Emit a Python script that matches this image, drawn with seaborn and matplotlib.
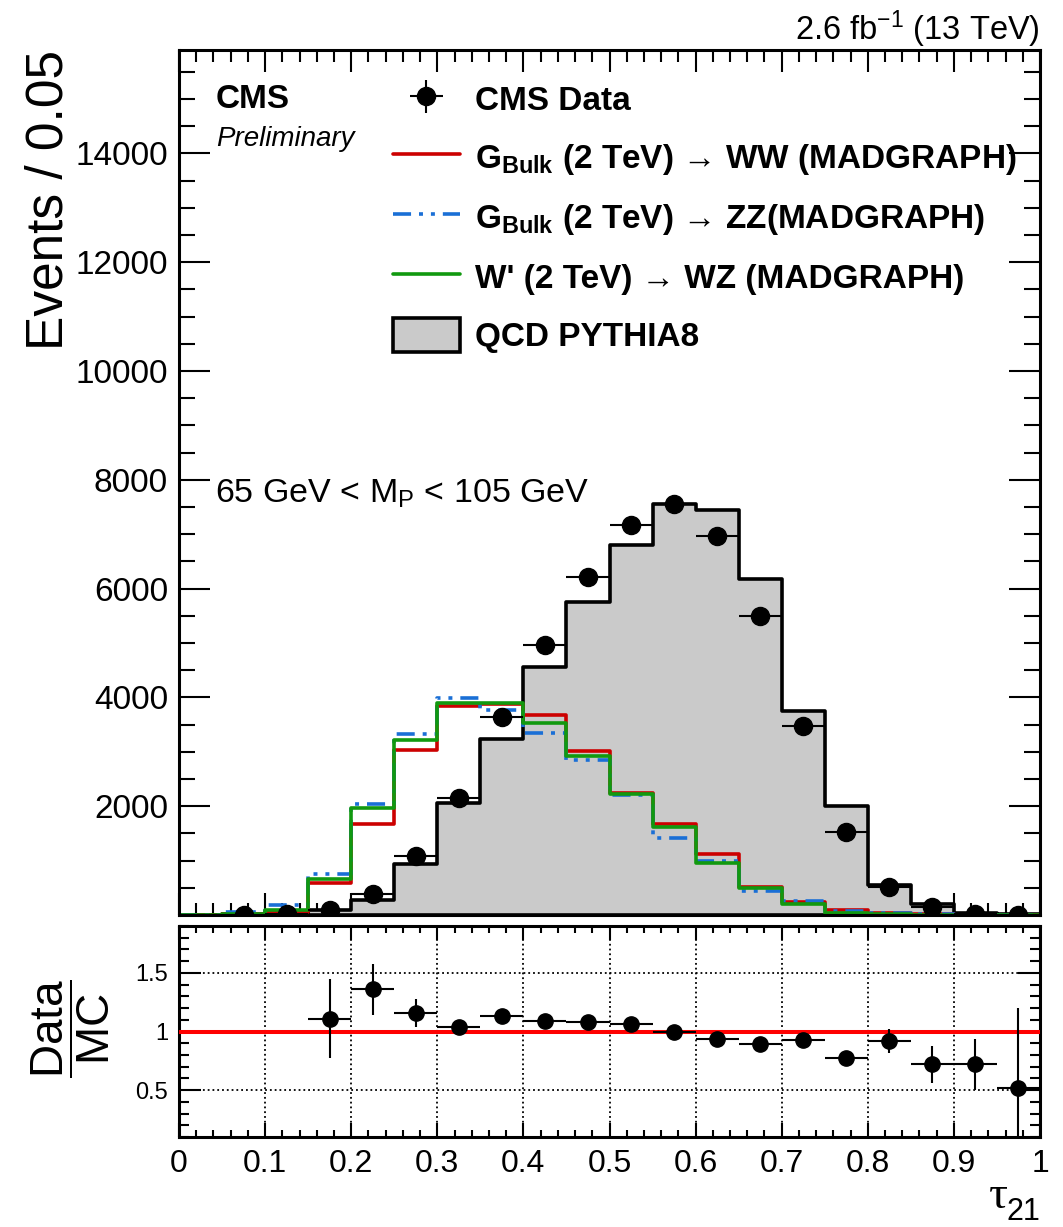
import numpy as np
import pandas as pd
import seaborn as sns
import matplotlib.pyplot as plt
from matplotlib.lines import Line2D
from matplotlib.patches import Patch
from matplotlib.ticker import MultipleLocator

# tau21 binning: 20 bins of width 0.05
bin_edges = [round(0.05 * i, 2) for i in range(21)]
bin_centers = [round(0.05 * i + 0.025, 3) for i in range(20)]

# Events per bin
qcd_pythia8 = [0, 10, 40, 90, 280, 935, 2060, 3240, 4560, 5760,
               6800, 7550, 7440, 6180, 3750, 2000, 550, 195, 30, 10]
gbulk_ww = [0, 10, 60, 580, 1680, 3040, 3850, 3870, 3670, 3010,
            2250, 1670, 1120, 510, 245, 90, 40, 15, 5, 0]
gbulk_zz = [5, 50, 180, 750, 2040, 3320, 3980, 3760, 3350, 2840,
            2200, 1420, 990, 440, 260, 70, 40, 10, 5, 0]
wprime_wz = [0, 10, 90, 660, 1970, 3220, 3900, 3900, 3530, 2930,
             2220, 1620, 950, 490, 200, 40, 10, 5, 0, 0]
cms_data = [np.nan, 2, 15, 100, 380, 1090, 2150, 3640, 4970, 6220,
            7170, 7550, 6970, 5490, 3470, 1530, 520, 145, 25, 5]

# Data / MC ratio (bins from 0.15 upward)
ratio_centers = [0.175, 0.225, 0.275, 0.325, 0.375, 0.425, 0.475, 0.525, 0.575,
                 0.625, 0.675, 0.725, 0.775, 0.825, 0.875, 0.925, 0.975]
ratio_vals = [1.11, 1.36, 1.16, 1.04, 1.13, 1.09, 1.08, 1.06, 1.00,
              0.94, 0.89, 0.93, 0.77, 0.92, 0.72, 0.72, 0.52]
ratio_errs = [0.34, 0.22, 0.12, 0.03, 0.03, 0.02, 0.02, 0.02, 0.02,
              0.02, 0.02, 0.03, 0.03, 0.10, 0.16, 0.22, 0.68]

legend_labels = [
    'CMS Data',
    r'$\mathbf{G_{Bulk}}$ (2 TeV) → WW (MADGRAPH)',
    r'$\mathbf{G_{Bulk}}$ (2 TeV) → ZZ(MADGRAPH)',
    "W' (2 TeV) → WZ (MADGRAPH)",
    'QCD PYTHIA8',
]

hists = pd.DataFrame({
    'tau21': bin_centers,
    'qcd': qcd_pythia8,
    'ww': gbulk_ww,
    'zz': gbulk_zz,
    'wz': wprime_wz,
})

GRAY = '#cacaca'
RED = '#cc0000'
BLUE = '#1a6fd6'
GREEN = '#11990f'
ZZ_DASH = (0, (5, 2.2, 1.1, 2.2, 1.1, 2.2))

sns.set_theme(style='ticks')
plt.rcParams['font.family'] = ['Liberation Sans', 'DejaVu Sans']
plt.rcParams['mathtext.fontset'] = 'custom'
plt.rcParams['mathtext.rm'] = 'Liberation Sans'
plt.rcParams['mathtext.it'] = 'Liberation Sans:italic'
plt.rcParams['mathtext.bf'] = 'Liberation Sans:bold'
plt.rcParams['axes.linewidth'] = 2.2
for key in ['text.color', 'axes.labelcolor', 'axes.edgecolor', 'xtick.color', 'ytick.color']:
    plt.rcParams[key] = 'black'

W, H = 1063, 1227
fig = plt.figure(figsize=(W / 100, H / 100), dpi=100)
ax = fig.add_axes([179 / W, 1 - 915 / H, 861 / W, 865 / H])
rax = fig.add_axes([179 / W, 1 - 1137 / H, 861 / W, 211 / H])

# --- main panel ---
sns.histplot(data=hists, x='tau21', weights='qcd', bins=bin_edges, element='step',
             fill=True, facecolor=GRAY, edgecolor='black', linewidth=2.6, ax=ax)
sns.histplot(data=hists, x='tau21', weights='ww', bins=bin_edges, element='step',
             fill=False, color=RED, linewidth=2.6, ax=ax)
sns.histplot(data=hists, x='tau21', weights='zz', bins=bin_edges, element='step',
             fill=False, color=BLUE, linewidth=2.6, linestyle=ZZ_DASH, ax=ax)
sns.histplot(data=hists, x='tau21', weights='wz', bins=bin_edges, element='step',
             fill=False, color=GREEN, linewidth=2.6, ax=ax)
data_eb = ax.errorbar(bin_centers, cms_data, xerr=0.025, yerr=np.sqrt(cms_data),
                      fmt='o', color='black', ms=13, elinewidth=1.5, capsize=0,
                      zorder=10)

ax.set_xlim(0, 1)
ax.set_ylim(0, 15900)
ax.set_xlabel('')
ax.set_ylabel('')
ax.set_yticks([2000, 4000, 6000, 8000, 10000, 12000, 14000],
              labels=['2000', '4000', '6000', '8000', '10000', '12000', '14000'])
ax.xaxis.set_major_locator(MultipleLocator(0.1))
ax.xaxis.set_minor_locator(MultipleLocator(0.02))
ax.yaxis.set_minor_locator(MultipleLocator(500))
ax.tick_params(which='both', direction='in', top=True, right=True, width=1.5,
               labelbottom=False, labelsize=24, pad=8)
ax.tick_params(axis='y', which='major', length=22)
ax.tick_params(axis='y', which='minor', length=11.5)
ax.tick_params(axis='x', which='major', length=16)
ax.tick_params(axis='x', which='minor', length=8.6)

handles = [
    data_eb,
    Line2D([], [], color=RED, lw=2.6),
    Line2D([], [], color=BLUE, lw=2.6, linestyle=ZZ_DASH),
    Line2D([], [], color=GREEN, lw=2.6),
    Patch(facecolor=GRAY, edgecolor='black', linewidth=2.6),
]
ax.legend(handles, legend_labels, loc='upper left', bbox_to_anchor=(0.2485, 0.963),
          frameon=False, prop={'weight': 'bold', 'size': 24}, handlelength=2.0,
          handleheight=1.2, handletextpad=0.45, labelspacing=0.68,
          borderpad=0, borderaxespad=0)

fig.text(216 / W, 1 - 99 / H, 'CMS', fontsize=24, fontweight='bold', va='center')
fig.text(216 / W, 1 - 139 / H, 'Preliminary', fontsize=20, style='italic', va='center')
fig.text(215 / W, 1 - 503 / H, r'65 GeV < M$_{\mathrm{P}}$ < 105 GeV', fontsize=24.5,
         va='baseline')
fig.text(1040 / W, 1 - 40 / H, r'2.6 fb$^{\mathrm{-1}}$ (13 TeV)', fontsize=23.5,
         ha='right', va='baseline')
fig.text(49 / W, 1 - 50 / H, 'Events / 0.05', fontsize=37, rotation=90,
         ha='center', va='top')

# --- ratio panel ---
rax.axhline(1, color='#ff0000', lw=2.9, zorder=3)
rax.errorbar(ratio_centers, ratio_vals, xerr=0.025, yerr=ratio_errs, fmt='o',
             color='black', ms=11, elinewidth=1.5, capsize=0, zorder=10)
rax.set_xlim(0, 1)
rax.set_ylim(0.1, 1.9)
rax.set_xticks(bin_edges[::2],
               labels=['0', '0.1', '0.2', '0.3', '0.4', '0.5', '0.6', '0.7', '0.8', '0.9', '1'])
rax.set_yticks([0.5, 1.0, 1.5], labels=['0.5', '1', '1.5'])
rax.xaxis.set_minor_locator(MultipleLocator(0.02))
rax.yaxis.set_minor_locator(MultipleLocator(0.1))
rax.grid(True, which='major', linestyle=':', color='black', lw=1.3)
rax.tick_params(which='both', direction='in', top=True, right=True, width=1.5)
rax.tick_params(axis='x', which='major', length=10, labelsize=23, pad=9)
rax.tick_params(axis='x', which='minor', length=5)
rax.tick_params(axis='y', which='major', length=16, labelsize=17, pad=8)
rax.tick_params(axis='y', which='minor', length=7)

fig.text(71 / W, 1 - 1029 / H, r'$\dfrac{\mathrm{Data}}{\mathrm{MC}}$', fontsize=33,
         rotation=90, ha='center', va='center')
fig.text(1008 / W, 1 - 1208 / H, 'τ', fontsize=34, family='Liberation Serif',
         ha='right', va='baseline')
fig.text(1040 / W, 1 - 1220 / H, '21', fontsize=22, ha='right', va='baseline')

fig.savefig('out.png', dpi=100)
plt.close(fig)
